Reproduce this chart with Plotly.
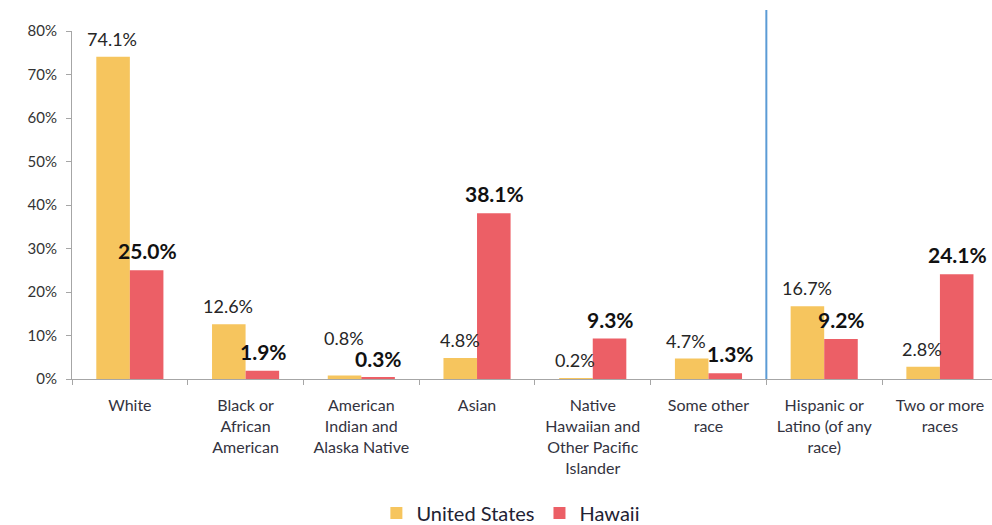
import plotly.graph_objects as go

# Race distribution, United States vs Hawaii (percent of population)
categories = [
    "White",
    "Black or<br>African<br>American",
    "American<br>Indian and<br>Alaska Native",
    "Asian",
    "Native<br>Hawaiian and<br>Other Pacific<br>Islander",
    "Some other<br>race",
    "Hispanic or<br>Latino (of any<br>race)",
    "Two or more<br>races",
]
us_values = [74.1, 12.6, 0.8, 4.8, 0.2, 4.7, 16.7, 2.8]
hawaii_values = [25.0, 1.9, 0.3, 38.1, 9.3, 1.3, 9.2, 24.1]
y_ticks = [0, 10, 20, 30, 40, 50, 60, 70, 80]

FONT = "Lato, 'Open Sans', sans-serif"
US_COLOR = "#F6C55E"
HI_COLOR = "#EC5F66"
BAR_HALF = 17.5  # roughly half of one bar's pixel width, used to centre labels

fig = go.Figure()
fig.add_trace(go.Bar(
    name="United States",
    x=categories,
    y=us_values,
    marker=dict(color=US_COLOR, line=dict(width=0)),
))
fig.add_trace(go.Bar(
    name="Hawaii",
    x=categories,
    y=hawaii_values,
    marker=dict(color=HI_COLOR, line=dict(width=0)),
))

# value labels above each bar
for cat, us, hi in zip(categories, us_values, hawaii_values):
    # lift the US label when both bars are tiny so the two labels don't collide
    lift = 20 if max(us, hi) < 1 else 0
    # spread the pair sideways a little when their heights are close
    spread = 5 if (abs(us - hi) < 5 and not lift) else 0
    fig.add_annotation(
        x=cat, y=us, xref="x", yref="y",
        text=f"{us:.1f}%", showarrow=False,
        xanchor="center", yanchor="bottom",
        xshift=-BAR_HALF - spread, yshift=6 + lift, borderpad=0,
        font=dict(family=FONT, size=18, color="#262626"),
    )
    fig.add_annotation(
        x=cat, y=hi, xref="x", yref="y",
        text=f"<b>{hi:.1f}%</b>", showarrow=False,
        xanchor="center", yanchor="bottom",
        xshift=BAR_HALF + spread, yshift=6, borderpad=0,
        font=dict(family=FONT, size=21, color="#111111"),
    )

# separator between race categories and Hispanic/multiracial groups
fig.add_shape(
    type="line",
    xref="x", yref="paper",
    x0=5.5, x1=5.5, y0=0, y1=1.06,
    line=dict(color="#5B9BD5", width=2),
)

fig.update_layout(
    width=992,
    height=525,
    margin=dict(l=72, r=0, t=31, b=146),
    paper_bgcolor="white",
    plot_bgcolor="white",
    barmode="group",
    bargap=0.42,
    bargroupgap=0,
    font=dict(family=FONT, size=16, color="#333333"),
    showlegend=True,
    legend=dict(
        orientation="h",
        xref="container", yref="container",
        x=0.515, xanchor="center",
        y=0.023, yanchor="middle",
        font=dict(family=FONT, size=20, color="#222233"),
    ),
    xaxis=dict(
        range=[-0.5, 7.45],
        automargin=False,
        showline=True,
        linecolor="#A6A6A6",
        linewidth=1,
        ticks="outside",
        tickson="boundaries",
        ticklen=5,
        tickcolor="#A6A6A6",
        ticklabelstandoff=12,
        tickfont=dict(family=FONT, size=16, color="#333340"),
        showgrid=False,
    ),
    yaxis=dict(
        range=[0, 80],
        automargin=False,
        tickvals=y_ticks,
        ticktext=[f"{v}%" for v in y_ticks],
        showline=True,
        linecolor="#A6A6A6",
        linewidth=1,
        ticks="outside",
        ticklen=5,
        tickcolor="#A6A6A6",
        ticklabelstandoff=6,
        tickfont=dict(family=FONT, size=15, color="#333333"),
        showgrid=False,
        zeroline=False,
    ),
)

fig.write_html("out.html")
